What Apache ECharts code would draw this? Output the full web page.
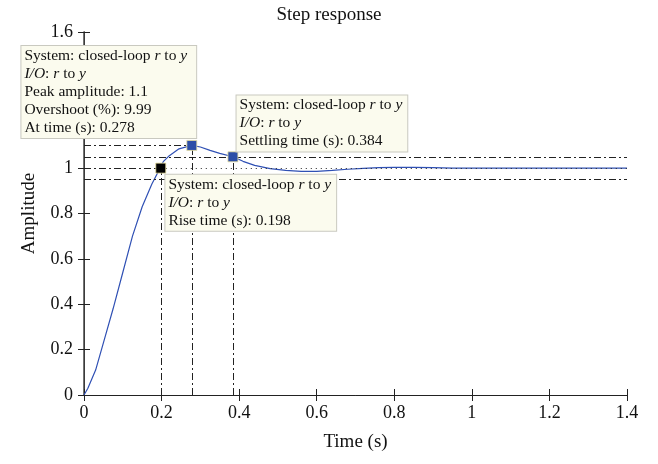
<!DOCTYPE html>
<html>
<head>
<meta charset="utf-8">
<script src="https://cdn.jsdelivr.net/npm/echarts@6/dist/echarts.min.js"></script>
<style>
  html, body { margin: 0; padding: 0; background: #fff; }
  #chart { width: 658px; height: 464px; }
</style>
</head>
<body>
<div id="chart"></div>
<script>
// step response
var times = [0, 0.01, 0.03, 0.05, 0.075, 0.1, 0.125, 0.15, 0.175, 0.19, 0.205, 0.22, 0.245, 0.278, 0.3, 0.325, 0.35, 0.384, 0.41, 0.44, 0.48, 0.52, 0.56, 0.6, 0.64, 0.68, 0.72, 0.76, 0.8, 0.85, 0.9, 0.95, 1.0, 1.1, 1.2, 1.3, 1.4];
var amps = [0, 0.03, 0.11, 0.23, 0.38, 0.54, 0.7, 0.83, 0.93, 0.98, 1.03, 1.055, 1.085, 1.1, 1.093, 1.078, 1.065, 1.05, 1.03, 1.012, 0.998, 0.99, 0.986, 0.986, 0.99, 0.995, 0.999, 1.002, 1.003, 1.003, 1.002, 1.0, 1.0, 1.0, 1.0, 1.0, 1.0];

var riseTime = 0.198, riseAmp = 1.0;
var peakTime = 0.278, peakAmp = 1.1;
var settleTime = 0.384, settleAmp = 1.05;
var finalValue = 1.0;
var bandHigh = 1.05, bandLow = 0.95;
var xTicks = [0, 1.4, 0.2];   // min, max, step
var yTicks = [0, 1.6, 0.2];

var serif = '"Liberation Serif", "DejaVu Serif", serif';
var dashDot = [7, 3, 2, 3];

var chart = echarts.init(document.getElementById('chart'));

var fs = 15.5;
var boxStyle = {
  show: true,
  opacity: 1,
  fontFamily: serif,
  fontSize: fs,
  lineHeight: 18,
  color: '#111',
  backgroundColor: '#fbfbee',
  borderColor: '#c9c9c0',
  borderWidth: 1,
  padding: [1, 4, 1, 3],
  rich: {
    n: { fontFamily: serif, fontSize: fs, lineHeight: 18, color: '#111' },
    i: { fontFamily: serif, fontSize: fs, lineHeight: 18, color: '#111', fontStyle: 'italic' }
  }
};
var sysLine = '{n|System: closed-loop }{i|r}{n| to }{i|y}\n{i|I/O}{n|: }{i|r}{n| to }{i|y}';

function box(extra) {
  return Object.assign({}, boxStyle, extra);
}

var axisCommon = {
  type: 'value',
  axisLine: { show: true, lineStyle: { color: '#222', width: 1 } },
  axisTick: { show: true, inside: true, length: 6, lineStyle: { color: '#222' } },
  splitLine: { show: false }
};

var option = {
  animation: false,
  title: {
    text: 'Step response',
    left: 'center',
    top: 1,
    textStyle: { fontFamily: serif, fontSize: 19, fontWeight: 'normal', color: '#111' }
  },
  grid: { left: 84, right: 31, top: 32, bottom: 69 },
  xAxis: [
    Object.assign({}, axisCommon, {
      min: xTicks[0], max: xTicks[1], interval: xTicks[2],
      name: 'Time (s)', nameLocation: 'middle', nameGap: 38,
      nameTextStyle: { fontFamily: serif, fontSize: 19, color: '#111' },
      axisLabel: { fontFamily: serif, fontSize: 18, color: '#111', margin: 9 }
    }),
    Object.assign({}, axisCommon, {
      position: 'top',
      min: xTicks[0], max: xTicks[1], interval: xTicks[2],
      axisLabel: { show: false }
    })
  ],
  yAxis: [
    Object.assign({}, axisCommon, {
      min: yTicks[0], max: yTicks[1], interval: yTicks[2],
      name: 'Amplitude', nameLocation: 'middle', nameGap: 45,
      nameTextStyle: { fontFamily: serif, fontSize: 19, color: '#111' },
      axisLabel: { fontFamily: serif, fontSize: 18, color: '#111', margin: 11 }
    }),
    Object.assign({}, axisCommon, {
      position: 'right',
      min: yTicks[0], max: yTicks[1], interval: yTicks[2],
      axisLabel: { show: false },
      axisLine: { show: true, lineStyle: { color: '#444', width: 1.5 } }
    })
  ],
  series: [
    {
      type: 'line',
      data: times.map(function (t, i) { return [t, amps[i]]; }),
      showSymbol: false,
      symbol: 'none',
      lineStyle: { color: '#2f50b4', width: 1.2 },
      z: 3,
      markLine: {
        silent: true,
        symbol: 'none',
        label: { show: false },
        lineStyle: { color: '#222', width: 1, type: dashDot },
        data: [
          [{ coord: [0, peakAmp] }, { coord: [peakTime, peakAmp] }],
          [{ coord: [0, bandHigh] }, { coord: [xTicks[1], bandHigh] }],
          [{ coord: [0, bandLow] }, { coord: [xTicks[1], bandLow] }],
          [{ coord: [0, finalValue] }, { coord: [riseTime, finalValue] }],
          [{ coord: [riseTime, 0] }, { coord: [riseTime, riseAmp] }],
          [{ coord: [peakTime, 0] }, { coord: [peakTime, peakAmp] }],
          [{ coord: [settleTime, 0] }, { coord: [settleTime, settleAmp] }],
          [{ coord: [riseTime, finalValue], lineStyle: { type: [1, 4] } },
           { coord: [xTicks[1], finalValue] }]
        ]
      }
    },
    {
      type: 'scatter',
      symbol: 'rect',
      symbolSize: 10,
      zlevel: 1,
      z: 5,
      itemStyle: { opacity: 1 },
      data: [
        {
          value: [peakTime, peakAmp],
          itemStyle: { color: '#2c4ea8', borderColor: '#e8e0a0', borderWidth: 0.8, opacity: 1 },
          label: box({
            position: [-165, -2], align: 'left', verticalAlign: 'bottom',
            padding: [1, 9, 1, 3],
            formatter: sysLine + '\n{n|Peak amplitude: 1.1}\n{n|Overshoot (%): 9.99}\n{n|At time (s): 0.278}'
          })
        },
        {
          value: [settleTime, settleAmp],
          itemStyle: { color: '#2c4ea8', borderColor: '#e8e0a0', borderWidth: 0.8, opacity: 1 },
          label: box({
            position: [9, 0], align: 'left', verticalAlign: 'bottom',
            padding: [1, 5, 1, 3],
            formatter: sysLine + '\n{n|Settling time (s): 0.384}'
          })
        },
        {
          value: [riseTime, riseAmp],
          itemStyle: { color: '#000', borderColor: '#e8e0a0', borderWidth: 0.8, opacity: 1 },
          label: box({
            position: [10, 12], align: 'left', verticalAlign: 'top',
            padding: [1, 5, 1, 3],
            formatter: sysLine + '\n{n|Rise time (s): 0.198}'
          })
        }
      ]
    }
  ]
};

chart.setOption(option);
</script>
</body>
</html>
